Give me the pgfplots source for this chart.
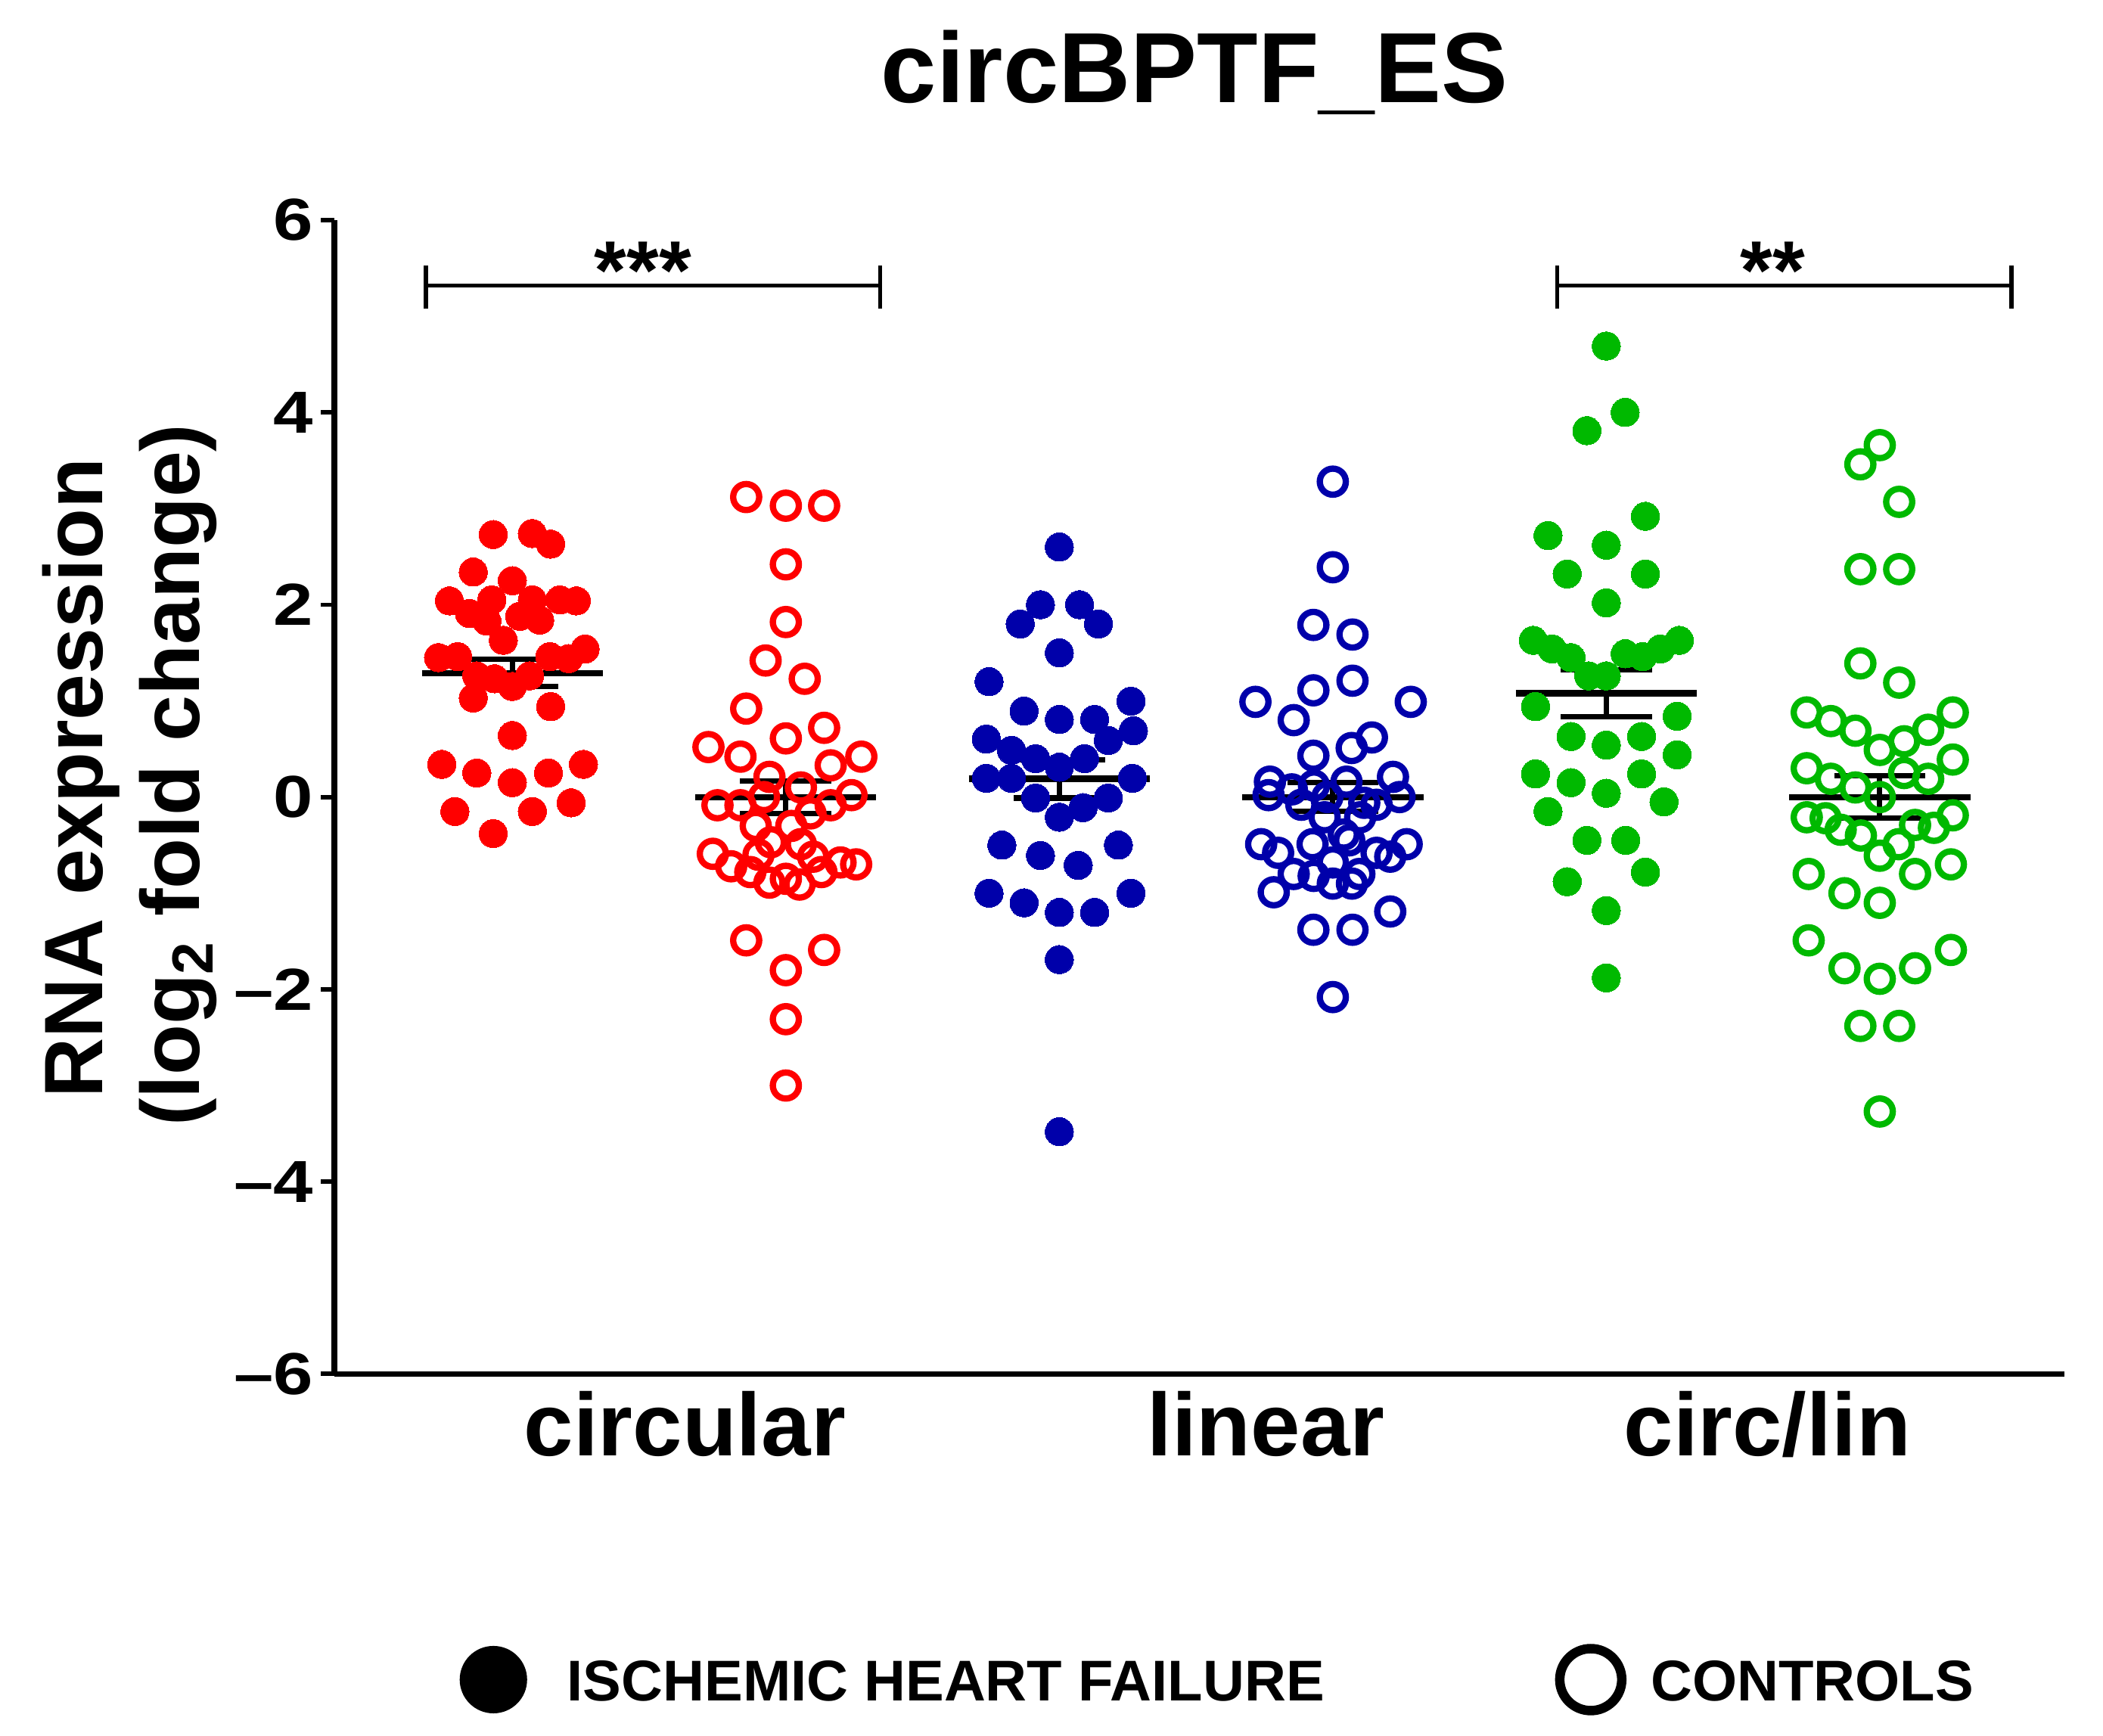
\documentclass[border=0pt]{standalone}
\usepackage{fontspec}
\setmainfont{Liberation Sans}
\usepackage{graphicx}
\usepackage{pgfplots}
\pgfplotsset{compat=1.18}
\definecolor{cred}{RGB}{255,0,0}
\definecolor{cblue}{RGB}{0,0,170}
\definecolor{cgreen}{RGB}{0,185,0}
\begin{document}
\begin{tikzpicture}
\path[use as bounding box] (0pt,0pt) rectangle (468pt,386.19pt);
\begin{axis}[
  at={(74.4pt,80.4pt)}, anchor=south west,
  width=385pt, height=256.8pt, scale only axis,
  xmin=0.349, xmax=6.675, ymin=-6, ymax=6,
  axis x line=bottom, axis y line=left,
  axis line style={line width=1.2pt,-,black},
  xtick=\empty,
  ytick={-6,-4,-2,0,2,4,6},
  yticklabels={\scalebox{1.2}[1]{–6},\scalebox{1.2}[1]{–4},\scalebox{1.2}[1]{–2},\scalebox{1.2}[1]{0},\scalebox{1.2}[1]{2},\scalebox{1.2}[1]{4},\scalebox{1.2}[1]{6}},
  yticklabel style={font=\bfseries\fontsize{13.2}{14}\selectfont, inner sep=0pt, xshift=-1.5pt},
  y tick style={line width=1pt,black},
  major tick length=3pt, tick align=outside,
  clip=false,
]
% mean and SEM bars
\addplot[black, line width=1.4pt] coordinates {(0.669,1.29) (1.331,1.29)};
\addplot[black, line width=1.2pt] coordinates {(1,1.15) (1,1.43)};
\addplot[black, line width=1.2pt] coordinates {(0.833,1.43) (1.167,1.43)};
\addplot[black, line width=1.2pt] coordinates {(0.833,1.15) (1.167,1.15)};
\addplot[black, line width=1.4pt] coordinates {(1.669,0) (2.331,0)};
\addplot[black, line width=1.2pt] coordinates {(2,-0.17) (2,0.17)};
\addplot[black, line width=1.2pt] coordinates {(1.833,0.17) (2.167,0.17)};
\addplot[black, line width=1.2pt] coordinates {(1.833,-0.17) (2.167,-0.17)};
\addplot[black, line width=1.4pt] coordinates {(2.669,0.19) (3.331,0.19)};
\addplot[black, line width=1.2pt] coordinates {(3,-0.01) (3,0.39)};
\addplot[black, line width=1.2pt] coordinates {(2.833,0.39) (3.167,0.39)};
\addplot[black, line width=1.2pt] coordinates {(2.833,-0.01) (3.167,-0.01)};
\addplot[black, line width=1.4pt] coordinates {(3.669,0) (4.331,0)};
\addplot[black, line width=1.2pt] coordinates {(4,-0.15) (4,0.15)};
\addplot[black, line width=1.2pt] coordinates {(3.833,0.15) (4.167,0.15)};
\addplot[black, line width=1.2pt] coordinates {(3.833,-0.15) (4.167,-0.15)};
\addplot[black, line width=1.4pt] coordinates {(4.669,1.08) (5.331,1.08)};
\addplot[black, line width=1.2pt] coordinates {(5,0.835) (5,1.325)};
\addplot[black, line width=1.2pt] coordinates {(4.833,1.325) (5.167,1.325)};
\addplot[black, line width=1.2pt] coordinates {(4.833,0.835) (5.167,0.835)};
\addplot[black, line width=1.4pt] coordinates {(5.669,0) (6.331,0)};
\addplot[black, line width=1.2pt] coordinates {(6,-0.22) (6,0.22)};
\addplot[black, line width=1.2pt] coordinates {(5.833,0.22) (6.167,0.22)};
\addplot[black, line width=1.2pt] coordinates {(5.833,-0.22) (6.167,-0.22)};
% circular, ischemic HF
\addplot[color=cred, only marks, mark=*, mark size=3.15pt, mark options={fill=cred, draw=cred, line width=0pt}] table[row sep=\\] {
x y\\
0.93 2.73\\ 1.073 2.74\\ 1.14 2.63\\ 0.857 2.34\\ 1.0 2.25\\ 0.77 2.04\\ 0.925 2.05\\ 1.073 2.05\\ 1.174 2.05\\ 1.234 2.04\\
0.843 1.91\\ 0.907 1.83\\ 1.027 1.88\\ 1.10 1.84\\ 0.967 1.63\\ 0.73 1.45\\ 0.80 1.46\\ 1.266 1.54\\ 1.137 1.46\\ 1.206 1.44\\
0.87 1.26\\ 0.935 1.23\\ 1.0 1.15\\ 1.063 1.26\\ 0.857 1.03\\ 1.14 0.94\\ 1.0 0.64\\ 0.742 0.34\\ 0.87 0.25\\ 1.0 0.15\\
1.132 0.25\\ 1.26 0.34\\ 0.79 -0.15\\ 1.073 -0.15\\ 1.215 -0.06\\ 0.93 -0.38\\
};
% circular, controls
\addplot[color=cred, only marks, mark=o, mark size=2.9pt, mark options={draw=cred, line width=1.4pt}] table[row sep=\\] {
x y\\
1.855 3.12\\ 2.0 3.03\\ 2.14 3.03\\ 2.0 2.42\\ 2.0 1.82\\ 1.926 1.42\\ 2.069 1.23\\ 1.855 0.92\\ 2.14 0.72\\ 2.0 0.61\\
1.717 0.52\\ 1.834 0.42\\ 2.276 0.42\\ 2.164 0.33\\ 1.94 0.21\\ 2.055 0.10\\ 2.24 0.02\\ 1.75 -0.085\\ 1.834 -0.085\\ 1.92 0.0\\
2.164 -0.085\\ 2.09 -0.17\\ 1.89 -0.30\\ 2.02 -0.30\\ 1.945 -0.47\\ 2.055 -0.49\\ 1.733 -0.59\\ 2.257 -0.70\\ 1.80 -0.72\\ 2.20 -0.68\\
1.87 -0.78\\ 2.13 -0.78\\ 1.94 -0.89\\ 2.05 -0.91\\ 2.0 -0.85\\ 1.90 -0.60\\ 2.10 -0.62\\ 1.855 -1.49\\ 2.14 -1.59\\ 2.0 -1.80\\
2.0 -2.31\\ 2.0 -3.0\\
};
% linear, ischemic HF
\addplot[color=cblue, only marks, mark=*, mark size=3.15pt, mark options={fill=cblue, draw=cblue, line width=0pt}] table[row sep=\\] {
x y\\
3.0 2.6\\ 2.931 2.0\\ 3.074 2.0\\ 2.857 1.8\\ 3.143 1.8\\ 3.0 1.5\\ 2.743 1.2\\ 2.871 0.894\\ 3.0 0.807\\ 3.129 0.807\\
3.262 0.997\\ 3.271 0.69\\ 3.179 0.588\\ 2.733 0.603\\ 2.825 0.486\\ 2.913 0.399\\ 3.0 0.31\\ 3.092 0.40\\ 2.733 0.195\\ 2.825 0.195\\
3.267 0.195\\ 2.913 -0.01\\ 3.0 -0.21\\ 3.087 -0.11\\ 3.179 -0.01\\ 2.79 -0.5\\ 2.931 -0.607\\ 3.069 -0.71\\ 3.216 -0.5\\ 2.743 -1.0\\
2.871 -1.1\\ 3.0 -1.2\\ 3.129 -1.2\\ 3.262 -1.0\\ 3.0 -1.69\\ 3.0 -3.48\\
};
% linear, controls
\addplot[color=cblue, only marks, mark=o, mark size=2.9pt, mark options={draw=cblue, line width=1.4pt}] table[row sep=\\] {
x y\\
4.0 3.28\\ 4.0 2.39\\ 3.929 1.79\\ 4.072 1.69\\ 4.072 1.21\\ 3.929 1.11\\ 3.717 0.99\\ 4.285 0.99\\ 3.857 0.80\\ 4.143 0.62\\
4.069 0.51\\ 3.929 0.43\\ 4.22 0.21\\ 3.77 0.16\\ 3.85 0.08\\ 3.931 0.12\\ 4.05 0.16\\ 3.765 0.02\\ 4.244 0.0\\ 3.98 0.0\\
4.115 -0.06\\ 4.16 -0.08\\ 3.885 -0.08\\ 3.97 -0.21\\ 4.10 -0.21\\ 3.738 -0.49\\ 3.80 -0.58\\ 3.926 -0.49\\ 4.04 -0.39\\ 4.06 -0.45\\
4.27 -0.49\\ 4.16 -0.58\\ 4.21 -0.62\\ 4.0 -0.68\\ 3.857 -0.80\\ 4.097 -0.80\\ 3.93 -0.82\\ 4.0 -0.90\\ 4.07 -0.90\\ 3.784 -0.99\\
4.21 -1.19\\ 3.929 -1.38\\ 4.072 -1.38\\ 4.0 -2.08\\
};
% circ/lin, ischemic HF
\addplot[color=cgreen, only marks, mark=*, mark size=3.15pt, mark options={fill=cgreen, draw=cgreen, line width=0pt}] table[row sep=\\] {
x y\\
5.0 4.69\\ 5.069 4.0\\ 4.929 3.81\\ 5.143 2.92\\ 4.787 2.72\\ 5.0 2.62\\ 4.857 2.32\\ 5.143 2.32\\ 5.0 2.02\\ 4.733 1.63\\
5.267 1.63\\ 4.802 1.54\\ 5.198 1.54\\ 4.871 1.45\\ 5.133 1.46\\ 5.069 1.49\\ 4.936 1.26\\ 5.0 1.26\\ 4.741 0.94\\ 5.259 0.84\\
4.871 0.63\\ 5.0 0.54\\ 5.129 0.63\\ 5.259 0.44\\ 4.741 0.24\\ 4.871 0.15\\ 5.0 0.04\\ 5.129 0.24\\ 5.211 -0.05\\ 4.787 -0.15\\
4.929 -0.45\\ 5.071 -0.45\\ 5.143 -0.78\\ 4.857 -0.88\\ 5.0 -1.18\\ 5.0 -1.88\\
};
% circ/lin, controls
\addplot[color=cgreen, only marks, mark=o, mark size=2.9pt, mark options={draw=cgreen, line width=1.4pt}] table[row sep=\\] {
x y\\
6.0 3.66\\ 5.929 3.46\\ 6.071 3.07\\ 5.929 2.37\\ 6.071 2.37\\ 5.929 1.39\\ 6.071 1.19\\ 5.733 0.88\\ 6.267 0.88\\ 5.821 0.79\\
6.177 0.70\\ 5.911 0.69\\ 6.089 0.58\\ 6.0 0.49\\ 5.733 0.30\\ 6.267 0.39\\ 5.821 0.19\\ 6.177 0.19\\ 6.089 0.25\\ 5.911 0.10\\
6.0 0.0\\ 5.733 -0.21\\ 5.802 -0.22\\ 6.267 -0.19\\ 5.857 -0.34\\ 5.931 -0.40\\ 6.129 -0.29\\ 6.198 -0.32\\ 6.069 -0.49\\ 6.0 -0.61\\
5.74 -0.80\\ 6.129 -0.80\\ 6.26 -0.70\\ 5.871 -1.0\\ 6.0 -1.1\\ 5.74 -1.49\\ 5.871 -1.78\\ 6.0 -1.89\\ 6.129 -1.78\\ 6.26 -1.59\\
5.929 -2.38\\ 6.071 -2.38\\ 6.0 -3.27\\
};
\end{axis}
\begin{scope}[x=0.3pt,y=-0.3pt,shift={(0pt,386.19pt)}]
\node[anchor=base, inner sep=0pt, font=\bfseries\fontsize{22.2}{26}\selectfont] at (886,76) {circBPTF\_ES};
\node[rotate=90, anchor=base, inner sep=0pt, font=\bfseries\fontsize{18.45}{22}\selectfont] at (76,577) {RNA expression};
\node[rotate=90, anchor=base, inner sep=0pt, font=\bfseries\fontsize{18.45}{22}\selectfont] at (148,575) {(log\textsubscript{2} fold change)};
\node[anchor=base, inner sep=0pt, font=\bfseries\fontsize{19.8}{22}\selectfont] at (508,1080) {circular};
\node[anchor=base, inner sep=0pt, font=\bfseries\fontsize{19.8}{22}\selectfont] at (939,1080) {linear};
\node[anchor=base, inner sep=0pt, font=\bfseries\fontsize{19.8}{22}\selectfont] at (1311,1080) {circ/lin};
\draw[line width=0.9pt] (316,212)--(653,212) (316,197)--(316,229) (653,197)--(653,229);
\draw[line width=0.9pt] (1155,212)--(1492,212) (1155,197)--(1155,229) (1492,197)--(1492,229);
\node[anchor=base, inner sep=0pt, font=\bfseries\fontsize{18.5}{20}\selectfont] at (477,222) {***};
\node[anchor=base, inner sep=0pt, font=\bfseries\fontsize{18.5}{20}\selectfont] at (1315,222) {**};
\fill[black] (366,1246) circle[radius=7.5pt];
\draw[black, line width=2.1pt] (1180,1246) circle[radius=6.9pt];
\node[anchor=base west, inner sep=0pt, font=\bfseries\fontsize{12.8}{14}\selectfont] at (420,1262) {ISCHEMIC HEART FAILURE};
\node[anchor=base west, inner sep=0pt, font=\bfseries\fontsize{12.8}{14}\selectfont] at (1224,1262) {CONTROLS};
\end{scope}
\end{tikzpicture}
\end{document}
